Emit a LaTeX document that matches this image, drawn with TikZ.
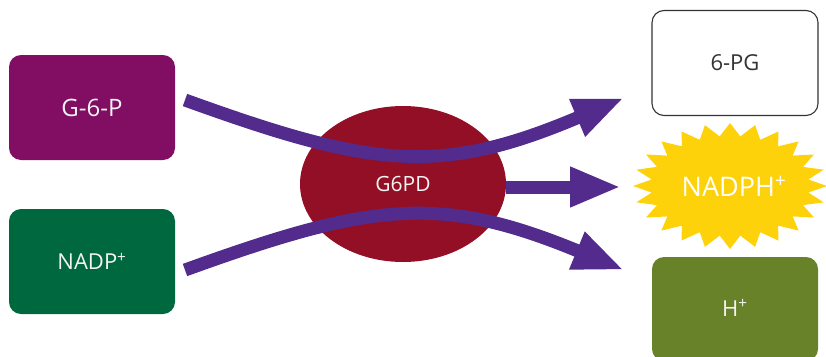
\documentclass[tikz,border=0pt]{standalone}
\usepackage{fontspec}
\setmainfont{Open Sans}
\usetikzlibrary{arrows.meta,shapes.geometric}
\definecolor{cG}{HTML}{810E62}
\definecolor{cN}{HTML}{00683F}
\definecolor{cE}{HTML}{930F26}
\definecolor{cP}{HTML}{522B8C}
\definecolor{cY}{HTML}{FDD20A}
\definecolor{cH}{HTML}{688229}
\definecolor{cT}{HTML}{F4F4F4}
\definecolor{cD}{HTML}{333333}
\newcommand{\sups}{\textsuperscript{+}}
\tikzset{
  box/.style={rounded corners=12pt, minimum width=166pt, minimum height=105pt, inner sep=0pt, text=cT},
  arr/.style={draw=cP, line width=13pt, -{Triangle[length=51pt,width=37pt]}},
}
\begin{document}
\begin{tikzpicture}[x=1pt,y=-1pt]
\useasboundingbox (0,0) rectangle (826,356);
% left boxes
\node[box, fill=cG, font=\fontsize{24}{28}\selectfont] (g6p) at (92,107.5) {G-6-P};
\node[box, fill=cN, font=\fontsize{22}{26}\selectfont] (nadp) at (92,261.5) {NADP\sups};
% enzyme
\node[ellipse, fill=cE, minimum width=206pt, minimum height=156pt, inner sep=0pt] (enz) at (403,184) {};
% right side
\node[box, fill=white, draw=cD, line width=1.1pt, text=cD, font=\fontsize{22}{26}\selectfont] (pg) at (735,63) {6-PG};
\fill[cY] (827,186) \foreach \i in {0,...,23} { -- ({730+97*cos(\i*15)},{186+63*sin(\i*15)}) -- ({730+79*cos(\i*15+7.5)},{186+50*sin(\i*15+7.5)}) } -- cycle;
\node[text=white, font=\fontsize{27}{30}\selectfont, inner sep=0pt] (nadph) at (734,186) {NADPH\sups};
\node[box, fill=cH, minimum height=104pt] (hplus) at (735,309) {};
\node[text=cT, font=\fontsize{22}{26}\selectfont, inner sep=0pt] (hlab) at (735,308) {H\sups};
% arrows
\coordinate (t1) at (185,100);
\coordinate (t2) at (624,98);
\coordinate (b1) at (185,270);
\coordinate (b2) at (624,270);
\coordinate (m2) at (621,187);
\draw[arr] (t1) .. controls (373,168) and (440,176) .. (t2);
\draw[arr] (b1) .. controls (373,202) and (440,194) .. (b2);
\draw[arr] (enz.east |- m2) -- (m2);
% enzyme label on top
\node[text=cT, font=\fontsize{21}{24}\selectfont, inner sep=0pt] (enzl) at (enz.center) {G6PD};
\end{tikzpicture}
\end{document}
